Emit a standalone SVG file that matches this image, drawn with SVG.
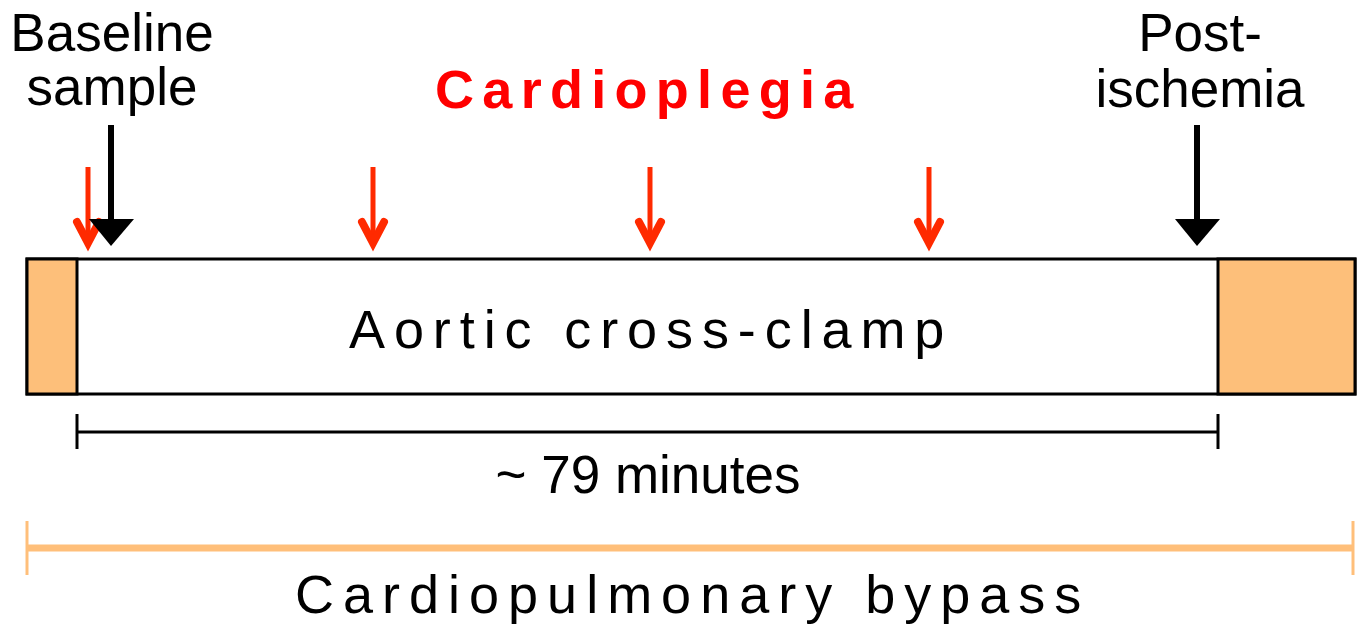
<svg xmlns="http://www.w3.org/2000/svg" width="1361" height="626" viewBox="0 0 1361 626">
<defs>
<style>
.lbl{font-family:"Liberation Sans",Arial,sans-serif;font-size:53px;fill:#000;text-anchor:middle}
.spaced{font-family:"Liberation Sans",Arial,sans-serif;font-size:54px;fill:#000;text-anchor:start}
.red-shaft{stroke:#ff2a00;stroke-width:5;fill:none}
.red-head{stroke:#ff2a00;stroke-width:8;fill:none;stroke-linecap:round;stroke-linejoin:miter}
.blk-shaft{stroke:#000;stroke-width:6;fill:none}
.blk-head{fill:#000}
.box{fill:#fff;stroke:#000;stroke-width:3}
.cpb{fill:#fdbf7a;stroke:#000;stroke-width:3}
</style>
</defs>
<rect width="1361" height="626" fill="#fff"/>

<g id="clamp-bar">
<rect class="box" x="27" y="259" width="1328" height="135"/>
<rect class="cpb" x="27" y="259" width="50" height="135"/>
<rect class="cpb" x="1218" y="259" width="137" height="135"/>
<text class="spaced" x="349" y="348" letter-spacing="8.9">Aortic cross-clamp</text>
</g>

<g id="baseline-label">
<text class="lbl" x="112" y="51">Baseline</text>
<text class="lbl" x="112" y="105">sample</text>
</g>

<g id="post-label">
<text class="lbl" x="1200" y="51">Post-</text>
<text class="lbl" x="1200" y="107">ischemia</text>
</g>

<g id="cardioplegia-label">
<text x="435" y="108" font-family="Liberation Sans, Arial, sans-serif" font-size="54" font-weight="bold" fill="#ff0000" letter-spacing="8.3">Cardioplegia</text>
</g>

<g id="connectors">
<line class="red-shaft" x1="88" y1="167" x2="88" y2="240"/>
<polyline class="red-head" points="77,222 88,243 99,222"/>
<line class="red-shaft" x1="373" y1="167" x2="373" y2="240"/>
<polyline class="red-head" points="362,222 373,243 384,222"/>
<line class="red-shaft" x1="650" y1="167" x2="650" y2="240"/>
<polyline class="red-head" points="639,222 650,243 661,222"/>
<line class="red-shaft" x1="929" y1="167" x2="929" y2="240"/>
<polyline class="red-head" points="918,222 929,243 940,222"/>

<line class="blk-shaft" x1="111" y1="125" x2="111" y2="222"/>
<polygon class="blk-head" points="89,219 134,219 111,246"/>
<line class="blk-shaft" x1="1197" y1="125" x2="1197" y2="222"/>
<polygon class="blk-head" points="1175,219 1220,219 1197,246"/>
</g>

<g id="clamp-duration">
<line x1="77" y1="432" x2="1218" y2="432" stroke="#000" stroke-width="3"/>
<line x1="77" y1="414" x2="77" y2="449" stroke="#000" stroke-width="3"/>
<line x1="1218" y1="414" x2="1218" y2="449" stroke="#000" stroke-width="3"/>
<text class="lbl" x="648" y="493" font-size="54">~ 79 minutes</text>
</g>

<g id="bypass-duration">
<line x1="27" y1="548" x2="1353" y2="548" stroke="#ffbf7a" stroke-width="7"/>
<line x1="27" y1="521" x2="27" y2="575" stroke="#ffbf7a" stroke-width="3"/>
<line x1="1353" y1="521" x2="1353" y2="575" stroke="#ffbf7a" stroke-width="3"/>
<text class="spaced" x="295" y="613" letter-spacing="9">Cardiopulmonary bypass</text>
</g>
</svg>
